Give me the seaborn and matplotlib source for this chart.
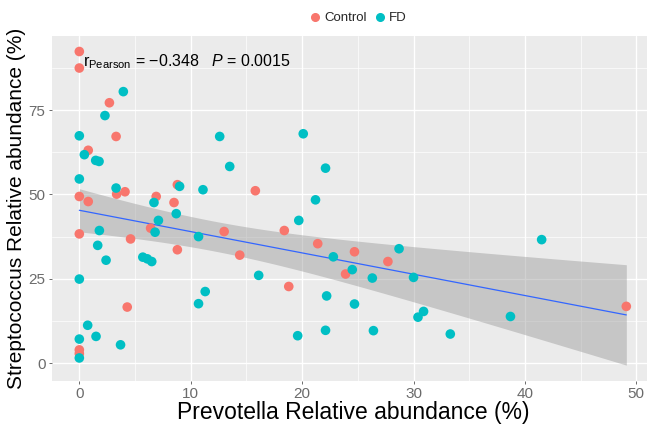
import numpy as np
import pandas as pd
import matplotlib
matplotlib.use("Agg")
import matplotlib.pyplot as plt
from matplotlib.lines import Line2D
from matplotlib.ticker import MultipleLocator
import seaborn as sns

# ---- data ----
control_x = [0, 0, 2.7, 3.3, 0.8, 3.35, 4.1, 0, 0.8, 6.9, 8.5, 8.8, 6.4, 0, 4.6, 8.8,
             4.3, 0, 0, 15.8, 13.0, 18.4, 21.4, 14.4, 24.7, 27.7, 23.9, 18.8, 49.1]
control_y = [92.4, 87.5, 77.2, 67.2, 63.1, 50.1, 50.8, 49.4, 47.9, 49.4, 47.6, 52.9, 40.0,
             38.3, 36.8, 33.6, 16.6, 3.9, 2.8, 51.1, 39.0, 39.3, 35.4, 32.0, 33.0, 30.1,
             26.4, 22.7, 16.8]
fd_x = [3.95, 2.3, 0, 12.6, 0.45, 1.47, 1.77, 0, 3.3, 6.7, 9.0, 11.1, 8.7, 7.1, 6.8, 1.8,
        1.65, 10.7, 2.4, 5.7, 6.1, 6.5, 0, 11.3, 10.7, 0.75, 1.5, 0, 3.7, 0, 13.5, 20.1,
        22.1, 21.2, 19.7, 22.8, 28.7, 24.5, 26.3, 30.0, 16.1, 22.2, 24.7, 30.4, 19.6, 22.1,
        26.4, 41.5, 30.9, 33.3, 38.7]
fd_y = [80.5, 73.4, 67.4, 67.2, 61.8, 60.1, 59.8, 54.6, 51.9, 47.6, 52.4, 51.4, 44.3, 42.3,
        38.8, 39.3, 34.9, 37.5, 30.5, 31.4, 30.9, 30.1, 24.9, 21.2, 17.6, 11.2, 7.9, 7.1,
        5.4, 1.5, 58.3, 68.0, 57.8, 48.4, 42.3, 31.5, 33.9, 27.7, 25.2, 25.4, 26.0, 19.9,
        17.5, 13.6, 8.1, 9.7, 9.6, 36.6, 15.3, 8.6, 13.8]
groups = ["Control", "FD"]
colors = ["#F8766D", "#00BFC4"]
x_ticks = [0, 10, 20, 30, 40, 50]
y_ticks = [0, 25, 50, 75]

df = pd.DataFrame({
    "x": control_x + fd_x,
    "y": control_y + fd_y,
    "group": ["Control"] * len(control_x) + ["FD"] * len(fd_x),
})

sns.set_theme(style="darkgrid")
plt.rcParams["font.family"] = ["Liberation Sans", "DejaVu Sans"]
plt.rcParams["mathtext.fontset"] = "custom"
plt.rcParams["mathtext.rm"] = "Liberation Sans"
plt.rcParams["mathtext.it"] = "Liberation Sans:italic"

fig = plt.figure(figsize=(6.47, 4.25), dpi=100)
# panel continues slightly past the right edge of the (cropped) figure
ax = fig.add_axes([0.0799, 0.1042, 0.931, 0.8111])
ax.set_facecolor("#EBEBEB")

# linear fit with analytic 95% confidence band (as ggplot geom_smooth(method="lm"))
xv = df["x"].to_numpy()
yv = df["y"].to_numpy()
n = len(xv)
b1, b0 = np.polyfit(xv, yv, 1)
resid = yv - (b0 + b1 * xv)
s = np.sqrt(np.sum(resid ** 2) / (n - 2))
xm = xv.mean()
sxx = np.sum((xv - xm) ** 2)
xg = np.linspace(xv.min(), xv.max(), 100)
se = s * np.sqrt(1.0 / n + (xg - xm) ** 2 / sxx)
tval = 1.9908
ax.fill_between(xg, b0 + b1 * xg - tval * se, b0 + b1 * xg + tval * se,
                color="#999999", alpha=0.45, lw=0, zorder=2)

sns.regplot(data=df, x="x", y="y", scatter=False, ci=None, ax=ax,
            line_kws=dict(color="#3366FF", lw=0.9, zorder=3))

sns.scatterplot(data=df, x="x", y="y", hue="group", hue_order=groups,
                palette=colors, s=48, linewidth=0, ax=ax, legend=False, zorder=4)

ax.set_xlim(-2.48, 51.59)
ax.set_ylim(-5.25, 97.0)
ax.xaxis.set_minor_locator(MultipleLocator(5))
ax.yaxis.set_minor_locator(MultipleLocator(12.5))
ax.set_xticks(x_ticks)
ax.set_yticks(y_ticks)
ax.grid(which="major", color="white", lw=1.0)
ax.grid(which="minor", color="white", lw=0.5)
ax.set_axisbelow(True)
for sp in ax.spines.values():
    sp.set_visible(False)
ax.tick_params(which="major", length=2.5, width=0.6, color="#555555",
               labelsize=11, labelcolor="#6b6b6b", pad=2)
ax.tick_params(which="minor", length=0)
ax.tick_params(axis="both", which="major", bottom=True, left=True)

ax.set_xlabel("Prevotella Relative abundance (%)", fontsize=16.5, color="black", labelpad=0)
ax.set_ylabel("Streptococcus Relative abundance (%)", fontsize=15, color="black", labelpad=2)

ax.text(0.36, 88.1, r"r$_{\mathrm{Pearson}}$ = $-$0.348   $\mathit{P}$ = 0.0015",
        fontsize=11.5, color="black", ha="left", va="baseline", zorder=5)

handles = [Line2D([], [], marker="o", ls="", color=c, markersize=5.5) for c in colors]
fig.legend(handles, groups, loc="center", bbox_to_anchor=(0.553, 0.957), ncol=2,
           frameon=False, fontsize=9.5, handletextpad=0.2, columnspacing=0.5,
           handlelength=1.0)

fig.savefig("out.png", dpi=100)
